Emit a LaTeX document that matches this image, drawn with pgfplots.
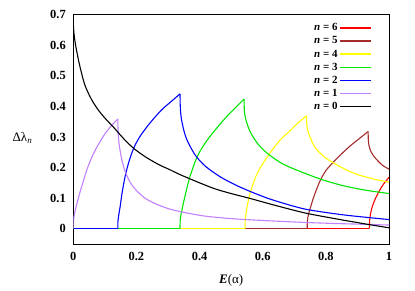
\documentclass[border=0pt]{standalone}
\usepackage{fontspec}
\setmainfont{Liberation Serif}
\usepackage{pgfplots}
\pgfplotsset{compat=1.18}
\definecolor{cpurple}{RGB}{192,128,255}
\definecolor{cbrown}{RGB}{165,42,42}
\definecolor{cgreen}{RGB}{0,230,0}
\definecolor{cyellow}{RGB}{255,255,0}
\begin{document}
\begin{tikzpicture}
\path[use as bounding box] (-73.3bp,-47bp) rectangle (341.7bp,244bp);
\begin{axis}[
  scale only axis, width=315.7bp, height=229.3bp,
  xmin=0, xmax=1, ymin=-0.05, ymax=0.7,
  xtick={0,0.2,...,1}, ytick={0,0.1,...,0.7},
  major tick length=0pt,
  /pgf/number format/assume math mode=true,
  tick label style={font=\fontsize{12.5}{14}\selectfont\bfseries},
  xticklabel style={yshift=-5bp},
  yticklabel style={xshift=-4bp},
  axis line style={line width=0.6pt},
  every axis y label/.style={at={(rel axis cs:-0.161,0.464)},anchor=center},
  every axis x label/.style={at={(rel axis cs:0.5,-0.157)},anchor=center},
  xlabel={\fontsize{13}{15}\selectfont\textbf{\textit{E}}(α)},
  ylabel={\fontsize{13}{15}\selectfont Δλ\textsubscript{\textit{n}}},
  legend plot pos=right,
  legend cell align=right,
  legend style={draw=white, fill=white, at={(rel axis cs:0.95,0.975)}, anchor=north east,
    font=\fontsize{11}{11}\selectfont\bfseries, row sep=0.4bp, inner sep=1pt,
    /tikz/every even column/.append style={column sep=5bp}},
  legend image code/.code={\draw[#1] (0bp,0bp) -- (31bp,0bp);},
  every axis plot/.append style={line width=1.1pt},
]
\addlegendimage{color=red, line width=1.5pt}
\addlegendentry{\textit{n} = 6}
\addlegendimage{color=cbrown, line width=1.5pt}
\addlegendentry{\textit{n} = 5}
\addlegendimage{color=cyellow, line width=1.5pt}
\addlegendentry{\textit{n} = 4}
\addlegendimage{color=cgreen, line width=1.5pt}
\addlegendentry{\textit{n} = 3}
\addlegendimage{color=blue, line width=1.5pt}
\addlegendentry{\textit{n} = 2}
\addlegendimage{color=cpurple, line width=1.5pt}
\addlegendentry{\textit{n} = 1}
\addlegendimage{color=black, line width=1.5pt}
\addlegendentry{\textit{n} = 0}
% n=6
\addplot[red, forget plot] coordinates {(0,0) (0.938,0)};
\addplot[red, smooth, forget plot] coordinates {(0.938,0) (0.9385,0.025) (0.941,0.045) (0.945,0.065) (0.952,0.087) (0.961,0.107) (0.970,0.125) (0.982,0.145) (1,0.168)};
% n=5
\addplot[cbrown, forget plot] coordinates {(0,0) (0.741,0)};
\addplot[cbrown, smooth, forget plot] coordinates {(0.741,0) (0.7415,0.025) (0.744,0.043) (0.750,0.065) (0.762,0.105) (0.781,0.155) (0.800,0.190) (0.824,0.218) (0.850,0.245) (0.876,0.270) (0.905,0.294) (0.934,0.318)};
\addplot[cbrown, smooth, forget plot] coordinates {(0.934,0.318) (0.9345,0.290) (0.937,0.270) (0.943,0.252) (0.950,0.240) (0.961,0.226) (0.980,0.207) (1,0.195)};
% n=4
\addplot[cyellow, forget plot] coordinates {(0,0) (0.544,0)};
\addplot[cyellow, smooth, forget plot] coordinates {(0.544,0) (0.5445,0.025) (0.547,0.048) (0.551,0.074) (0.560,0.117) (0.580,0.175) (0.600,0.212) (0.623,0.248) (0.655,0.290) (0.686,0.320) (0.712,0.346) (0.739,0.370)};
\addplot[cyellow, smooth, forget plot] coordinates {(0.739,0.370) (0.7395,0.345) (0.742,0.325) (0.748,0.305) (0.758,0.280) (0.771,0.259) (0.795,0.235) (0.824,0.215) (0.860,0.195) (0.898,0.178) (0.950,0.163) (1,0.152)};
% n=3
\addplot[cgreen, forget plot] coordinates {(0,0) (0.338,0)};
\addplot[cgreen, smooth, forget plot] coordinates {(0.338,0) (0.3385,0.025) (0.341,0.045) (0.348,0.080) (0.358,0.125) (0.370,0.172) (0.391,0.232) (0.410,0.268) (0.433,0.302) (0.460,0.336) (0.486,0.367) (0.514,0.396) (0.541,0.424)};
\addplot[cgreen, smooth, forget plot] coordinates {(0.541,0.424) (0.5415,0.395) (0.543,0.375) (0.547,0.355) (0.555,0.330) (0.565,0.308) (0.585,0.277) (0.613,0.248) (0.655,0.217) (0.700,0.195) (0.781,0.163) (0.850,0.142) (0.920,0.127) (1,0.115)};
% n=2
\addplot[blue, forget plot] coordinates {(0,0) (0.141,0)};
\addplot[blue, smooth, forget plot] coordinates {(0.141,0) (0.1415,0.025) (0.144,0.045) (0.148,0.070) (0.155,0.120) (0.164,0.170) (0.175,0.215) (0.190,0.260) (0.210,0.300) (0.243,0.346) (0.280,0.389) (0.310,0.416) (0.338,0.441)};
\addplot[blue, smooth, forget plot] coordinates {(0.338,0.441) (0.3385,0.410) (0.340,0.380) (0.343,0.356) (0.350,0.322) (0.359,0.293) (0.375,0.260) (0.391,0.234) (0.420,0.203) (0.465,0.170) (0.510,0.145) (0.560,0.122) (0.623,0.097) (0.700,0.073) (0.750,0.061) (0.850,0.046) (0.940,0.036) (1,0.030)};
% n=1
\addplot[cpurple, smooth, forget plot] coordinates {(0,0) (0.001,0.030) (0.005,0.055) (0.011,0.080) (0.020,0.115) (0.030,0.150) (0.042,0.190) (0.055,0.225) (0.070,0.258) (0.085,0.285) (0.100,0.310) (0.120,0.336) (0.141,0.359)};
\addplot[cpurple, smooth, forget plot] coordinates {(0.141,0.359) (0.1415,0.330) (0.143,0.300) (0.146,0.270) (0.150,0.245) (0.155,0.220) (0.164,0.188) (0.180,0.152) (0.200,0.125) (0.230,0.098) (0.264,0.080) (0.300,0.066) (0.338,0.056) (0.412,0.042) (0.500,0.033) (0.600,0.027) (0.700,0.022) (0.800,0.018) (0.900,0.015) (1,0.012)};
% n=0
\addplot[black, smooth, forget plot] coordinates {(0,0.668) (0.002,0.640) (0.005,0.615) (0.010,0.585) (0.020,0.535) (0.036,0.472) (0.057,0.424) (0.078,0.390) (0.100,0.362) (0.130,0.329) (0.160,0.294) (0.190,0.264) (0.227,0.236) (0.270,0.210) (0.306,0.193) (0.338,0.177) (0.400,0.150) (0.450,0.130) (0.500,0.115) (0.560,0.099) (0.623,0.081) (0.700,0.060) (0.750,0.048) (0.850,0.029) (0.940,0.013) (1,0.003)};
\end{axis}
\end{tikzpicture}
\end{document}
